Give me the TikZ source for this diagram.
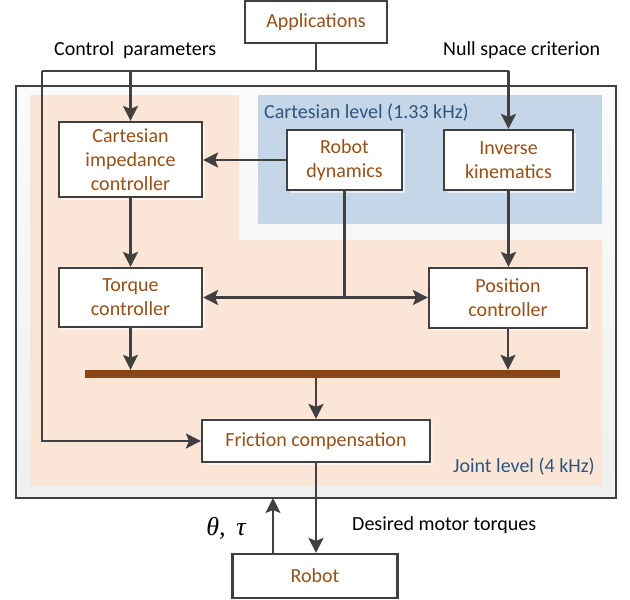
\documentclass[tikz,border=0pt]{standalone}
\usepackage{fontspec}
\setmainfont{Carlito}
\newfontfamily\greekserif{Liberation Serif}
\usetikzlibrary{arrows.meta,shadows,calc}
\definecolor{dark}{RGB}{64,64,64}
\definecolor{boxtext}{RGB}{150,80,25}
\definecolor{lvltext}{RGB}{45,85,125}
\definecolor{orangebg}{RGB}{251,229,214}
\definecolor{bluebg}{RGB}{196,214,232}
\definecolor{barc}{RGB}{140,70,20}
\begin{document}
\begin{tikzpicture}[x=1pt,y=-1pt,
  font=\fontsize{20}{24}\selectfont,
  blk/.style={draw=dark, line width=2.2pt, fill=white, text=boxtext, align=center, inner sep=0pt,
    drop shadow={shadow xshift=3pt, shadow yshift=-3pt, fill=white, opacity=0.6}},
  arr/.style={draw=dark, line width=2.2pt, -{Stealth[length=15pt,width=15pt,inset=3pt]}},
  ln/.style={draw=dark, line width=2.2pt},
  lbl/.style={text=black, inner sep=0pt},
  lvl/.style={text=lvltext, inner sep=0pt}]
\useasboundingbox (0,0) rectangle (630,600);
% backgrounds
\draw[dark, line width=2pt, top color=gray!3, bottom color=gray!12] (16,86) rectangle (616,498);
\fill[orangebg] (30,95) -- (239,95) -- (239,240) -- (602,240) -- (602,485) -- (30,485) -- cycle;
\fill[bluebg] (258,95) rectangle (602,224);
% nodes
\node[blk, minimum width=142pt, minimum height=42pt] (app) at (316,22) {Applications};
\node[blk, minimum width=143pt, minimum height=75pt] (cart) at (130.5,159.5) {Cartesian\\impedance\\controller};
\node[blk, minimum width=115pt, minimum height=60pt] (dyn) at (344.5,160) {Robot\\dynamics};
\node[blk, minimum width=129pt, minimum height=60pt] (ik) at (508.5,160) {Inverse\\kinematics};
\node[blk, minimum width=143pt, minimum height=59pt] (torque) at (130.5,297.5) {Torque\\controller};
\node[blk, minimum width=158pt, minimum height=60pt] (pos) at (508,298) {Position\\controller};
\node[fill=barc, minimum width=475pt, minimum height=8pt, inner sep=0pt] (bar) at (322.5,374) {};
\node[blk, minimum width=228pt, minimum height=42pt] (fric) at (316,441) {Friction compensation};
\node[blk, minimum width=165pt, minimum height=44pt] (robot) at (315,576) {Robot};
% labels
\node[lbl, anchor=west] (cp) at (54,50) {Control\ \ parameters};
\node[lbl, anchor=west] (ns) at (443,50) {Null space criterion};
\node[lvl, anchor=west] (cl) at (264,113) {Cartesian level (1.33 kHz)};
\node[lvl, anchor=east] (jl) at (595,467) {Joint level (4 kHz)};
\node[lbl, anchor=west] (dm) at (352,525) {Desired motor torques};
\node[lbl] (tt) at (226,528) {\greekserif\itshape\fontsize{26}{28}\selectfont θ,\ \,τ};
% connectors
\coordinate (jtop) at (316,71);
\coordinate (cL) at (42,71);
\draw[ln] (app.south) -- (jtop);
\draw[ln] (cL) -- (ik.north |- jtop);
\draw[arr] (cart.north |- jtop) -- (cart.north);
\draw[arr] (ik.north |- jtop) -- (ik.north);
\draw[arr] (cL) |- (fric.west);
\draw[arr] (dyn.west) -- (cart.east |- dyn.west);
\coordinate (mid) at (dyn.south |- torque.east);
\draw[ln] (dyn.south) -- (mid);
\draw[arr] (mid) -- (torque.east);
\draw[arr] (mid) -- (pos.west |- mid);
\draw[arr] (cart.south) -- (torque.north);
\draw[arr] (ik.south) -- (ik.south |- pos.north);
\draw[arr] (torque.south) -- (torque.south |- bar.north);
\draw[arr] (pos.south) -- (pos.south |- bar.north);
\draw[arr] (bar.south -| fric.north) -- (fric.north);
\draw[arr] (fric.south) -- (fric.south |- robot.north);
\coordinate (fb) at (273,498);
\draw[arr] (fb |- robot.north) -- (fb);
\end{tikzpicture}
\end{document}
